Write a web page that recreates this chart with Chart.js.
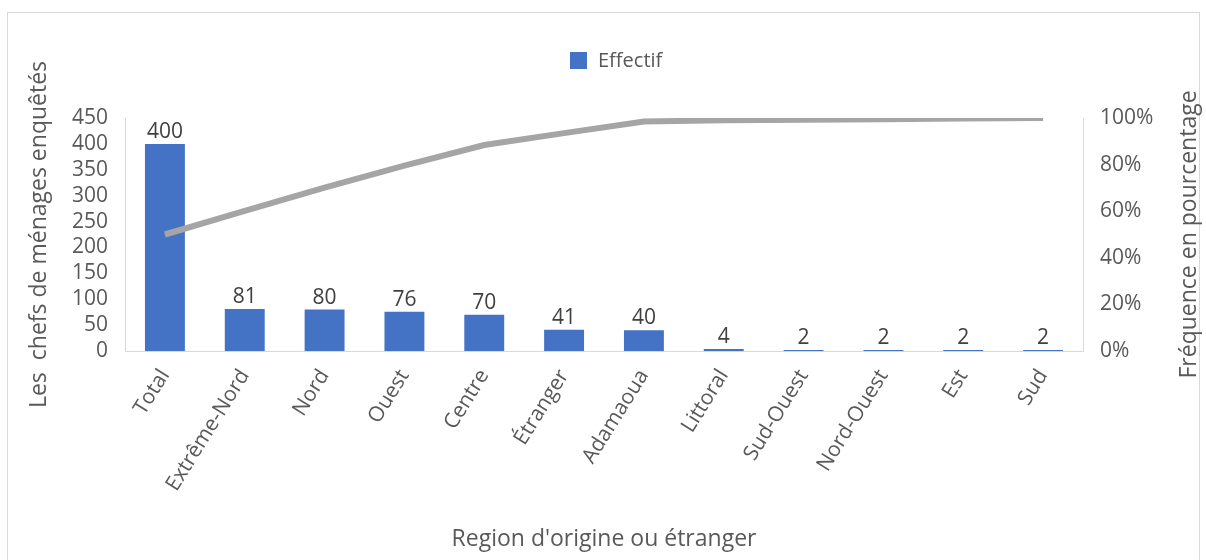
<!DOCTYPE html>
<html lang="fr">
<head>
<meta charset="utf-8">
<script src="https://cdn.jsdelivr.net/npm/chart.js@4.4.1/dist/chart.umd.min.js"></script>
<style>
  html, body { margin: 0; padding: 0; background: #ffffff; }
  #wrap { position: relative; width: 1206px; height: 560px; }
</style>
</head>
<body>
<div id="wrap"><canvas id="chart" width="1206" height="560"></canvas></div>
<script>
// Regions of origin, sorted by headcount
const categories = ['Total', 'Extrême-Nord', 'Nord', 'Ouest', 'Centre', 'Étranger',
  'Adamaoua', 'Littoral', 'Sud-Ouest', 'Nord-Ouest', 'Est', 'Sud'];
// Number of household heads surveyed
const effectif = [400, 81, 80, 76, 70, 41, 40, 4, 2, 2, 2, 2];
// Cumulative frequency (%)
const frequence = [50, 60.1, 70.1, 79.6, 88.4, 93.5, 98.5, 99, 99.3, 99.5, 99.8, 100];
// Axis tick settings
const leftTicksMax = 450;
const leftTicksStep = 50;
const rightTicksMax = 100;
const rightTicksStep = 20;
const rightTitle = 'Fréquence en pourcentage';

const FONT = '"Open Sans", "Noto Sans", sans-serif';
const TEXT = '#595959';
const AXIS = '#d9d9d9';
const BLUE = '#4472c4';
const GREY = '#a5a5a5';

// Outer frame, legend and right-hand axis title (read bottom to top)
const framePlugin = {
  id: 'frame',
  beforeDraw(chart) {
    const ctx = chart.ctx;
    ctx.save();
    ctx.fillStyle = '#ffffff';
    ctx.fillRect(0, 0, chart.width, chart.height);
    ctx.strokeStyle = '#d9d9d9';
    ctx.lineWidth = 1;
    ctx.strokeRect(7.5, 12.5, 1192, 560);
    ctx.restore();
  },
  afterDraw(chart) {
    const ctx = chart.ctx;
    const bars = chart.data.datasets.find(d => d.type === 'bar');
    ctx.save();
    ctx.fillStyle = BLUE;
    ctx.fillRect(570, 52, 17, 17);
    ctx.fillStyle = TEXT;
    ctx.font = '20px ' + FONT;
    ctx.textAlign = 'left';
    ctx.textBaseline = 'middle';
    ctx.fillText(bars.label, 598, 61);

    const area = chart.chartArea;
    ctx.translate(1189, (area.top + area.bottom) / 2);
    ctx.rotate(-Math.PI / 2);
    ctx.textAlign = 'center';
    ctx.font = '23px ' + FONT;
    ctx.fillText(rightTitle, 0, 0);
    ctx.restore();
  }
};

// Value labels above the bars
const barLabels = {
  id: 'barLabels',
  afterDatasetsDraw(chart) {
    const ctx = chart.ctx;
    const meta = chart.getDatasetMeta(1);
    const data = chart.data.datasets[1].data;
    ctx.save();
    ctx.fillStyle = '#404040';
    ctx.font = '21px ' + FONT;
    ctx.textAlign = 'center';
    ctx.textBaseline = 'alphabetic';
    meta.data.forEach((bar, i) => {
      ctx.fillText(String(data[i]), bar.x, bar.y - 6);
    });
    ctx.restore();
  }
};

new Chart(document.getElementById('chart'), {
  data: {
    labels: categories,
    datasets: [
      {
        type: 'line',
        label: 'Fréquence',
        data: frequence,
        yAxisID: 'y1',
        borderColor: GREY,
        borderWidth: 6,
        pointRadius: 0,
        tension: 0,
        order: 0
      },
      {
        type: 'bar',
        label: 'Effectif',
        data: effectif,
        yAxisID: 'y',
        backgroundColor: BLUE,
        barPercentage: 0.5,
        categoryPercentage: 1,
        order: 1
      }
    ]
  },
  options: {
    responsive: false,
    animation: false,
    layout: { padding: { top: 118, left: 0, right: 0, bottom: 0 } },
    plugins: {
      legend: { display: false },
      tooltip: { enabled: false }
    },
    scales: {
      x: {
        grid: { display: false, drawTicks: false },
        border: { display: true, color: AXIS, width: 1 },
        ticks: {
          color: TEXT,
          font: { family: FONT, size: 21 },
          minRotation: 58,
          maxRotation: 58,
          padding: 14,
          autoSkip: false
        },
        title: {
          display: true,
          text: "Region d'origine ou étranger",
          color: TEXT,
          font: { family: FONT, size: 23 },
          padding: { top: 0, bottom: 7 }
        },
        afterFit(scale) { scale.height = 209; }
      },
      y: {
        position: 'left',
        min: 0,
        max: leftTicksMax,
        grid: { display: false, drawTicks: false },
        border: { display: true, color: AXIS, width: 1 },
        ticks: {
          stepSize: leftTicksStep,
          color: TEXT,
          font: { family: FONT, size: 21, lineHeight: 1 },
          padding: 17,
          autoSkip: false,
          maxTicksLimit: 20
        },
        title: {
          display: true,
          text: 'Les  chefs de ménages enquêtés',
          color: TEXT,
          font: { family: FONT, size: 23 },
          padding: { top: 26, bottom: 0 }
        },
        afterFit(scale) { scale.width = 125; }
      },
      y1: {
        position: 'right',
        min: 0,
        max: rightTicksMax,
        grid: { display: false, drawTicks: false },
        border: { display: true, color: AXIS, width: 1 },
        ticks: {
          stepSize: rightTicksStep,
          color: TEXT,
          font: { family: FONT, size: 21 },
          padding: 17,
          autoSkip: false,
          callback: (v) => v + '%'
        },
        title: { display: false },
        afterFit(scale) { scale.width = 123; }
      }
    }
  },
  plugins: [framePlugin, barLabels]
});
</script>
</body>
</html>
